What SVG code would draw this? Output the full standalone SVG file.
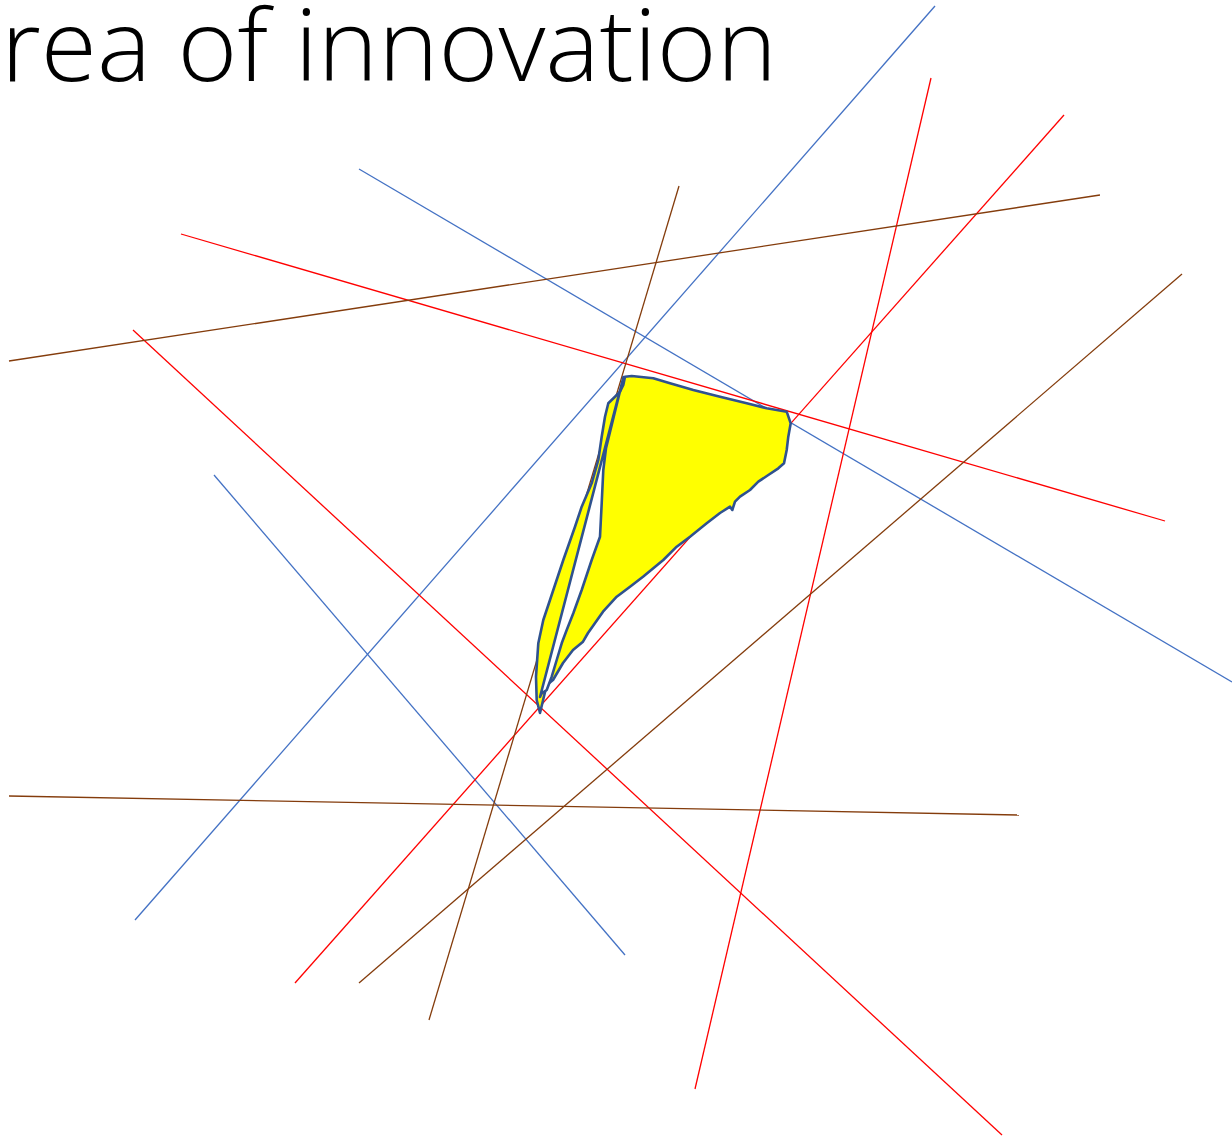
<svg xmlns="http://www.w3.org/2000/svg" width="1232" height="1138" viewBox="0 0 1232 1138">
<style>
.b{stroke:#4472C4;stroke-width:1.3;fill:none}
.r{stroke:#FF0000;stroke-width:1.3;fill:none}
.n{stroke:#843C0C;stroke-width:1.3;fill:none}
.s{stroke:#2F528F;stroke-width:2.6;stroke-linejoin:round;stroke-linecap:round}
.t{font-family:"Open Sans","Liberation Sans",sans-serif;font-weight:300;font-size:99px;fill:#000}
</style>
<rect width="1232" height="1138" fill="#fff"/>
<text class="t" x="1" y="81" textLength="776" lengthAdjust="spacingAndGlyphs">rea of innovation</text>
<g id="lines">
<line class="b" x1="935" y1="6" x2="135" y2="920"/>
<line class="b" x1="359" y1="169" x2="1232" y2="682"/>
<line class="b" x1="214" y1="475" x2="625" y2="955"/>
<line class="r" x1="931" y1="78" x2="695" y2="1089"/>
<line class="r" x1="1064" y1="115" x2="295" y2="983"/>
<line class="r" x1="181" y1="234" x2="1165" y2="521"/>
<line class="r" x1="133" y1="330" x2="1002" y2="1135"/>
<line class="n" x1="679" y1="186" x2="429" y2="1020"/>
<line class="n" x1="1100" y1="195" x2="9" y2="361"/>
<line class="n" x1="1182" y1="274" x2="359" y2="983"/>
<line class="n" x1="9" y1="796" x2="1019" y2="815"/>
</g>
<g id="area">
<path class="s" fill="#FFFF00" d="M631.7,376 L653.3,378.3 L670,383.3 L693.3,390 L720,396.7 L746.7,403.3 L766.7,408.3 L786.7,411.7 L790.7,423.3 L788.3,436.7 L786.7,450 L784,463.3 L778.3,468.3 L768.3,475 L758.3,481.7 L750,490 L740,496.7 L735,501.7 L732.3,510 L730,506.7 L720,513 L706.7,523.3 L690,536.7 L676.7,546.7 L663.3,560 L643,576.7 L630,586.7 L616.7,596.7 L603,611.7 L588,633 L583,641.7 L573,650 L563,663 L553,680 L546.7,685 L540,713 L536.7,700 L536,676.7 L538.3,643.3 L543.3,620 L550,600 L563.3,560 L575,526.7 L581.7,506.7 L591.7,483.3 L598.3,460 L601.7,436.7 L605,416.7 L608.3,403.3 L615,396.7 L620,391.7 L623.3,385 L625,376.7 Z"/>
<path class="s" fill="#FFFFFF" d="M623.5,377 L606,448.3 L603.3,470 L601.7,503.3 L600,536.7 L591.7,560 L581.7,590 L573.3,613.3 L566.7,630 L561.7,643.3 L556.7,660 L551.7,676.7 L546.7,690 L541.7,693.3 L540,697 L623.5,377 Z"/>
</g>
</svg>
